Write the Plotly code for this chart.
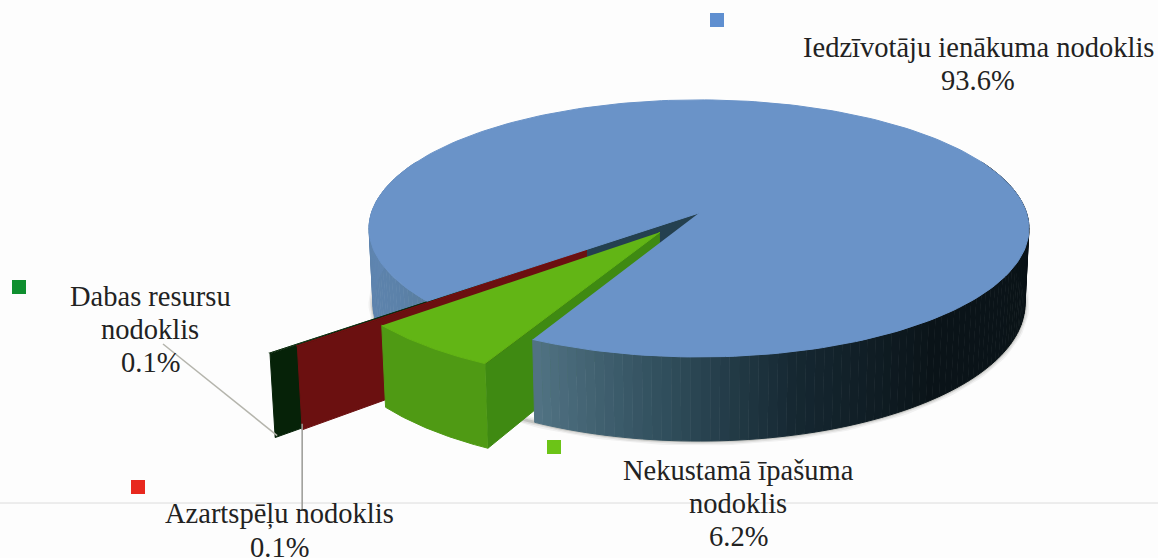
"""3D-look exploded pie of municipal tax revenue shares, drawn on a pixel-sized cartesian plot."""

import numpy as np
import plotly.graph_objects as go

categories = ["Iedzīvotāju ienākuma nodoklis", "Nekustamā īpašuma nodoklis", "Azartspēļu nodoklis", "Dabas resursu nodoklis"]
values = [93.6, 6.2, 0.1, 0.1]
label_lines = [
    ["Iedzīvotāju ienākuma nodoklis"],
    ["Nekustamā īpašuma", "nodoklis"],
    ["Azartspēļu nodoklis"],
    ["Dabas resursu", "nodoklis"],
]

# style and placement
W, H = 1158, 558
START_DEG = 140
PULL = [0.0, 0.19, 0.435, 0.515]
TOP = ["#6a93c8", "#62b515", "#7a0f10", "#0a2a0c"]
KEY = ["#5f8fd0", "#6cc417", "#e8281e", "#0f8f2f"]
LABEL_XY = [(978, 47), (738, 470), (279, 514), (150, 296)]
LINE_STEP = 33
KEY_XY = [(717, 20), (554, 447), (138, 487), (19, 287)]

# camera: a flat perspective over the pie plane
CX, CY, A, B, K, DEPTH, SHRINK = 699, 213, 327.6, 126.7, 0.12, 74, 0.012


def project(u, v, low=False):
    den = 1 - K * np.asarray(v)
    x = CX + A * np.asarray(u) / den
    y = CY + B * np.asarray(v) / den
    if low:
        x = CX + (x - CX) * (1 - SHRINK)
        y = y + DEPTH / den
    return x, y


def rim(t0, t1, off, low=False, n=90):
    t = np.radians(np.linspace(t0, t1, n))
    return project(off[0] + np.cos(t), off[1] + np.sin(t), low)


def poly(fig, xs, ys, color):
    fig.add_trace(go.Scatter(x=list(xs), y=list(ys), mode="lines", fill="toself", fillcolor=color,
                             line=dict(color=color, width=1), hoverinfo="skip", showlegend=False))


def wall(fig, t0, t1, off, color, n=90):
    x1, y1 = rim(t0, t1, off, n=n)
    x2, y2 = rim(t0, t1, off, low=True, n=n)
    poly(fig, np.r_[x1, x2[::-1]], np.r_[y1, y2[::-1]], color)


def radial(fig, t, off, color):
    t = np.radians(t)
    xa, ya = project(off[0], off[1])
    xb, yb = project(off[0] + np.cos(t), off[1] + np.sin(t))
    xc, yc = project(off[0] + np.cos(t), off[1] + np.sin(t), low=True)
    xd, yd = project(off[0], off[1], low=True)
    poly(fig, [xa, xb, xc, xd], [ya, yb, yc, yd], color)


def top(fig, t0, t1, off, color):
    xs, ys = rim(t0, t1, off, n=240)
    xa, ya = project(off[0], off[1])
    poly(fig, np.r_[xa, xs], np.r_[ya, ys], color)


def shade(t):
    # wall colour along the rim, from the dark right side to the lit left side
    stops_t = [-20, 50, 75, 95, 118, 150, 200]
    stops_rgb = [(10, 18, 22), (11, 20, 25), (22, 40, 50), (48, 78, 92), (84, 118, 135), (92, 130, 170), (98, 136, 180)]
    rgb = [np.interp(t, stops_t, [s[i] for s in stops_rgb]) for i in range(3)]
    return "rgb(%d,%d,%d)" % tuple(rgb)


def gradient_wall(fig, t0, t1, off):
    edges = np.linspace(t0, t1, int((t1 - t0) / 1.5) + 1)
    for a, b in zip(edges[:-1], edges[1:]):
        wall(fig, a, b, off, shade((a + b) / 2), n=3)


# slice angles from the values
sweep = [v / sum(values) * 360 for v in values]
begin = list(START_DEG + np.cumsum([0] + sweep[:-1]))
end = [b + s for b, s in zip(begin, sweep)]
mid = [np.radians((b + e) / 2) for b, e in zip(begin, end)]
offs = [(p * np.cos(m), p * np.sin(m)) for p, m in zip(PULL, mid)]

fig = go.Figure()

# soft shadow round the base of the pie
for width, alpha in [(9, 0.05), (6, 0.08), (3, 0.14)]:
    xs, ys = rim(-25, 205, offs[0], low=True, n=160)
    fig.add_trace(go.Scatter(x=xs, y=ys, mode="lines", line=dict(color=f"rgba(20,25,10,{alpha})", width=width),
                             hoverinfo="skip", showlegend=False))

# back to front: blue left wall and notch, thin slices, green cut face, blue body, green
gradient_wall(fig, begin[0], 205, offs[0])
radial(fig, begin[0], offs[0], "#24404f")
radial(fig, begin[3], offs[3], "#062208")
top(fig, begin[3], end[3], offs[3], TOP[3])
radial(fig, begin[2], offs[2], "#6b1010")
top(fig, begin[2], end[2], offs[2], TOP[2])
radial(fig, begin[1], offs[1], "#3f8a12")
gradient_wall(fig, -25, begin[1] - 360, offs[0])
top(fig, begin[0], end[0], offs[0], TOP[0])
wall(fig, begin[1], end[1], offs[1], "#4f9a14")
top(fig, begin[1], end[1], offs[1], TOP[1])

# faint scan line across the page
fig.add_trace(go.Scatter(x=[0, W], y=[503, 503], mode="lines", line=dict(color="#dcdcdc", width=1),
                         hoverinfo="skip", showlegend=False))

# leader lines for the two tiny slices
t_black = np.radians(begin[3])
lx, ly = project(offs[3][0] + np.cos(t_black), offs[3][1] + np.sin(t_black), low=True)
fig.add_trace(go.Scatter(x=[163, lx + 2], y=[344, ly - 2], mode="lines", line=dict(color="#b5b5ad", width=1.5),
                         hoverinfo="skip", showlegend=False))
t_red = np.radians(begin[2])
rx, ry = project(offs[2][0] + np.cos(t_red), offs[2][1] + np.sin(t_red), low=True)
fig.add_trace(go.Scatter(x=[rx, rx], y=[ry - 6, 510], mode="lines", line=dict(color="#9a9a96", width=1.5),
                         hoverinfo="skip", showlegend=False))

# legend keys
for (kx, ky), color, name in zip(KEY_XY, KEY, categories):
    fig.add_trace(go.Scatter(x=[kx], y=[ky], mode="markers", name=name, showlegend=False,
                             marker=dict(symbol="square", size=14, color=color)))

# labels, one annotation per line to hold the tight line spacing
for lines, val, (lx, ly) in zip(label_lines, values, LABEL_XY):
    for i, line in enumerate(lines + [f"{val}%"]):
        fig.add_annotation(x=lx, y=ly + i * LINE_STEP, text=line, showarrow=False, xanchor="center", yanchor="middle",
                           font=dict(family="Liberation Serif", size=28.5, color="#222222"))

fig.update_layout(
    width=W, height=H, margin=dict(l=0, r=0, t=0, b=0),
    paper_bgcolor="#fdfdfd", plot_bgcolor="#fdfdfd",
    xaxis=dict(range=[0, W], visible=False, fixedrange=True),
    yaxis=dict(range=[H, 0], visible=False, fixedrange=True),
)
fig.write_html("out.html", config=dict(displayModeBar=False), post_script="document.body.style.margin='0';")
